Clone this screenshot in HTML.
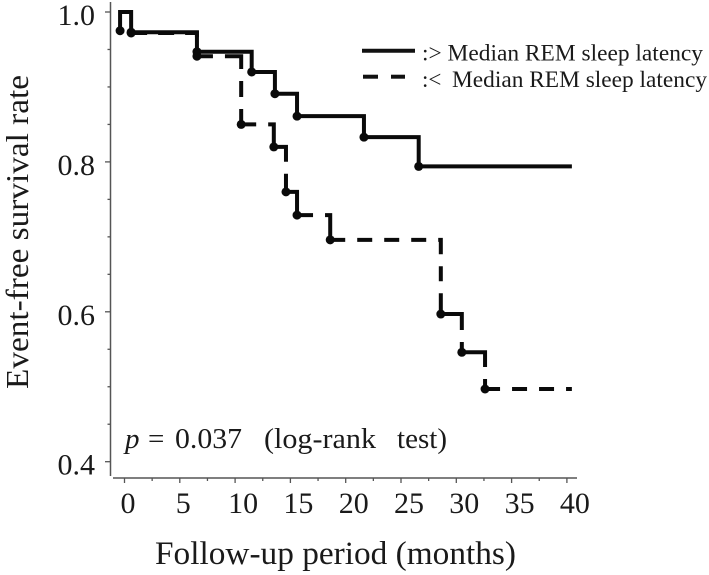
<!DOCTYPE html>
<html>
<head>
<meta charset="utf-8">
<title>Event-free survival chart</title>
<style>
html,body{margin:0;padding:0;background:#fff;}
svg{display:block;}
text{font-family:"Liberation Serif",serif;fill:#1a1a1a;}
</style>
</head>
<body>
<svg id="chart" width="709" height="575" viewBox="0 0 709 575" xmlns="http://www.w3.org/2000/svg">
  <line x1="110.5" y1="2" x2="110.5" y2="476" stroke="#555" stroke-width="1.5"/>
  <line x1="113" y1="478" x2="577" y2="478" stroke="#555" stroke-width="1.5"/>
  <g id="axes"></g>
  <g id="series"></g>
  <text transform="translate(28,389) rotate(-90)" font-size="32" textLength="314" lengthAdjust="spacingAndGlyphs">Event-free survival rate</text>
  <text x="155" y="564" font-size="33" textLength="361" lengthAdjust="spacingAndGlyphs">Follow-up period (months)</text>
  <g font-size="29">
    <text x="125" y="448" font-style="italic">p</text>
    <text x="148" y="448">=</text>
    <text x="175" y="448" textLength="67" lengthAdjust="spacingAndGlyphs">0.037</text>
    <text x="264" y="448" textLength="112" lengthAdjust="spacingAndGlyphs">(log-rank</text>
    <text x="397" y="448" textLength="50" lengthAdjust="spacingAndGlyphs">test)</text>
  </g>
  <g>
    <line x1="362" y1="50.7" x2="415" y2="50.7" stroke="#111" stroke-width="4"/>
    <text x="422" y="60.7" font-size="23" textLength="281" lengthAdjust="spacingAndGlyphs">:&gt; Median REM sleep latency</text>
    <line x1="363" y1="76.7" x2="378" y2="76.7" stroke="#111" stroke-width="4"/>
    <line x1="391" y1="76.7" x2="405" y2="76.7" stroke="#111" stroke-width="4"/>
    <text x="422" y="87" font-size="23">:&lt;</text>
    <text x="452" y="87" font-size="23" textLength="255" lengthAdjust="spacingAndGlyphs">Median REM sleep latency</text>
  </g>
</svg>
<script>
const xTickLabels = [0, 5, 10, 15, 20, 25, 30, 35, 40];
const yTickLabels = ["1.0", "0.8", "0.6", "0.4"];
const yTickValues = [1.0, 0.8, 0.6, 0.4];
const yMinorValues = [0.95, 0.9, 0.85, 0.75, 0.7, 0.65, 0.55, 0.5, 0.45];
const xMinorValues = [2.5, 7.5, 12.5, 17.5, 22.5, 27.5, 32.5, 37.5];

const aboveStartTime = -0.4;
const aboveStartSurvival = 0.975;
const aboveTimes = [0.6, 6.55, 11.5, 13.6, 15.6, 21.65, 26.6];
const aboveSurvival = [0.973, 0.947, 0.92, 0.891, 0.861, 0.833, 0.794];
const belowTimes = [0.6, 6.55, 10.55, 13.5, 14.6, 15.6, 18.6, 28.6, 30.5, 32.6];
const belowSurvival = [0.972, 0.941, 0.85, 0.82, 0.76, 0.729, 0.696, 0.597, 0.546, 0.497];
const endTime = 40.45;

const belowDashStyles = [
  "16 11",
  "16 12 29 12 16 12 14",
  "15 12 30",
  "27 12 18",
  "none",
  "16 12 30",
  "15 12 15 12 15 12 15 12 17 12 15 12 19",
  "37 12 10",
  "38 12 10",
  "15 12"
];

const SVGNS = "http://www.w3.org/2000/svg";
function xScale(t) { return 124.5 + 11.06 * t; }
function yScale(s) { return 12 + (1 - s) * 749.5; }
function make(tag, attrs, parent) {
  const el = document.createElementNS(SVGNS, tag);
  for (const k in attrs) el.setAttribute(k, attrs[k]);
  parent.appendChild(el);
  return el;
}
const axes = document.getElementById("axes");
const series = document.getElementById("series");
const tickStyle = { stroke: "#555", "stroke-width": 1.3 };

yTickValues.forEach(function (v, i) {
  const y = yScale(v);
  const tick = make("line", Object.assign({ x1: 105, x2: 110.5, y1: y, y2: y }, tickStyle), axes);
  
  
  const label = make("text", { x: 95, y: y + 13, "text-anchor": "end", "font-size": 30 }, axes);
  
  
  label.textContent = yTickLabels[i];
});
yMinorValues.forEach(function (v) {
  const y = yScale(v);
  const tick = make("line", Object.assign({ x1: 107.5, x2: 110.5, y1: y, y2: y }, tickStyle), axes);
  
  
});
xTickLabels.forEach(function (v) {
  const x = xScale(v);
  const tick = make("line", Object.assign({ x1: x, x2: x, y1: 478, y2: 483 }, tickStyle), axes);
  
  
  const label = make("text", { x: x + (v < 10 ? 3.5 : 8), y: 513, "text-anchor": "middle", "font-size": 30 }, axes);
  
  
  label.textContent = String(v);
});
xMinorValues.forEach(function (v) {
  const x = xScale(v);
  const tick = make("line", Object.assign({ x1: x, x2: x, y1: 478, y2: 481 }, tickStyle), axes);
  
  
});

// dashed series first, one path per step so each step can carry its own dash rhythm
belowTimes.forEach(function (t, i) {
  const nextT = i + 1 < belowTimes.length ? belowTimes[i + 1] : endTime;
  let d = "M" + xScale(t) + " " + yScale(belowSurvival[i]) + "H" + xScale(nextT);
  if (i + 1 < belowTimes.length) d += "V" + yScale(belowSurvival[i + 1]);
  const step = make("path", { d: d, fill: "none", stroke: "#0a0a0a", "stroke-width": 4, "stroke-dasharray": belowDashStyles[i] }, series);
  
  
});

let aboveD = "M" + xScale(aboveStartTime) + " " + yScale(aboveStartSurvival) + "V" + yScale(1) + "H" + xScale(aboveTimes[0]) + "V" + yScale(aboveSurvival[0]);
for (let i = 1; i < aboveTimes.length; i++) {
  aboveD += "H" + xScale(aboveTimes[i]) + "V" + yScale(aboveSurvival[i]);
}
aboveD += "H" + xScale(endTime);
const aboveLine = make("path", { d: aboveD, fill: "none", stroke: "#0a0a0a", "stroke-width": 4 }, series);



const startDot = make("circle", { cx: xScale(aboveStartTime), cy: yScale(aboveStartSurvival), r: 4.5, fill: "#0a0a0a" }, series);


aboveTimes.forEach(function (t, i) {
  const dot = make("circle", { cx: xScale(t), cy: yScale(aboveSurvival[i]), r: 4.5, fill: "#0a0a0a" }, series);
  
  
});
belowTimes.forEach(function (t, i) {
  const dot = make("circle", { cx: xScale(t), cy: yScale(belowSurvival[i]), r: 4.5, fill: "#0a0a0a" }, series);
  
  
});
</script>
</body>
</html>
